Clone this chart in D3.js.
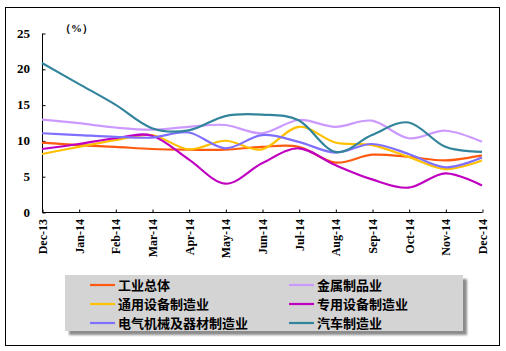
<!DOCTYPE html>
<html>
<head>
<meta charset="utf-8">
<script src="https://cdn.jsdelivr.net/npm/d3@7"></script>
<style>
  body { margin: 0; background: #fff; }
  svg { display: block; }
</style>
</head>
<body>
<svg width="506" height="351"></svg>
<script>
const months = ["Dec-13", "Jan-14", "Feb-14", "Mar-14", "Apr-14", "May-14", "Jun-14",
  "Jul-14", "Aug-14", "Sep-14", "Oct-14", "Nov-14", "Dec-14"];
const yTicks = [0, 5, 10, 15, 20, 25];

const seriesNames = ["工业总体", "金属制品业", "通用设备制造业", "专用设备制造业", "电气机械及器材制造业", "汽车制造业"];
const seriesColors = ["#ff5a0f", "#cc99ff", "#ffc000", "#c000c0", "#7f6fff", "#31849b"];

const industryTotal = [9.7, 9.35, 9.1, 8.8, 8.7, 8.7, 9.1, 9.1, 6.9, 8.0, 7.7, 7.2, 7.9];
const metalProducts = [12.9, 12.4, 11.8, 11.5, 11.9, 12.15, 11.0, 12.85, 11.9, 12.75, 10.3, 11.35, 9.8];
const generalEquip = [8.1, 9.1, 10.05, 10.75, 8.75, 9.95, 8.75, 11.9, 9.7, 9.35, 7.7, 6.0, 7.2];
const specialEquip = [8.8, 9.5, 10.3, 10.65, 7.35, 3.95, 6.8, 8.9, 6.55, 4.55, 3.4, 5.4, 3.7];
const electrical = [11.0, 10.75, 10.5, 10.4, 11.1, 8.9, 10.75, 9.8, 8.3, 9.5, 8.1, 6.25, 7.6];
const automobile = [20.8, 17.9, 15.0, 11.7, 11.4, 13.4, 13.6, 12.8, 8.4, 10.75, 12.5, 9.1, 8.4];

const seriesValues = [industryTotal, metalProducts, generalEquip, specialEquip, electrical, automobile];

const svg = d3.select("svg");

// outer frame
svg.append("rect")
  .attr("x", 5.5).attr("y", 7.5)
  .attr("width", 494).attr("height", 338)
  .attr("fill", "#fff").attr("stroke", "#000");

const margin = { left: 42, right: 482, top: 33, bottom: 212 };

const xScale = d3.scalePoint()
  .domain(months)
  .range([margin.left, margin.right]);

const yScale = d3.scaleLinear()
  .domain([0, 25])
  .range([margin.bottom, margin.top]);

const axisFont = "'Liberation Serif', 'DejaVu Serif', serif";

// y axis, ticks inside
const yAxis = d3.axisRight(yScale).tickValues(yTicks).tickSize(3).tickFormat("");
svg.append("g")
  .attr("transform", `translate(${margin.left + 0.5}, 0.5)`)
  .call(yAxis)
  .call(g => g.select(".domain").attr("stroke", "#000").attr("d", `M0,${margin.top}V${margin.bottom}`));

svg.append("g")
  .selectAll("text")
  .data(yTicks)
  .join("text")
  .attr("x", 30)
  .attr("y", d => yScale(d))
  .attr("dy", "0.35em")
  .attr("text-anchor", "end")
  .attr("font-family", axisFont)
  .attr("font-weight", "bold")
  .attr("font-size", 13)
  .text(d => d);

svg.append("text")
  .attr("x", 60).attr("y", 32)
  .attr("font-family", axisFont)
  .attr("font-weight", "bold")
  .attr("font-size", 11)
  .text("（%）");

// x axis, ticks inside (upward)
const xAxis = d3.axisTop(xScale).tickSize(3).tickFormat("");
svg.append("g")
  .attr("transform", `translate(0.5, ${margin.bottom + 0.5})`)
  .call(xAxis)
  .call(g => g.select(".domain").attr("d", `M${margin.left},0H${margin.right}`));

svg.append("g")
  .selectAll("text")
  .data(months)
  .join("text")
  .attr("transform", d => `translate(${xScale(d) + 5}, 219) rotate(-90)`)
  .attr("text-anchor", "end")
  .attr("font-family", axisFont)
  .attr("font-weight", "bold")
  .attr("font-size", 12)
  .text(d => d);

// lines
const line = d3.line()
  .x((d, i) => xScale(months[i]))
  .y(d => yScale(d))
  .curve(d3.curveCardinal.tension(0));

svg.append("g")
  .selectAll("path")
  .data(seriesValues)
  .join("path")
  .attr("d", d => line(d))
  .attr("fill", "none")
  .attr("stroke", (d, i) => seriesColors[i])
  .attr("stroke-width", 2.2);

// legend
const defs = svg.append("defs");
const filter = defs.append("filter").attr("id", "shadow")
  .attr("x", "-5%").attr("y", "-10%").attr("width", "115%").attr("height", "130%");
filter.append("feGaussianBlur").attr("stdDeviation", 1.2);

svg.append("rect")
  .attr("x", 69).attr("y", 279)
  .attr("width", 398).attr("height", 56)
  .attr("fill", "#8c8c8c")
  .attr("filter", "url(#shadow)");

svg.append("rect")
  .attr("x", 65).attr("y", 275)
  .attr("width", 398).attr("height", 56)
  .attr("fill", "#d4d4d4");

const legendCols = [90, 289];
const legendRows = [285, 304, 323];

const legendItem = svg.append("g")
  .selectAll("g")
  .data(seriesNames)
  .join("g")
  .attr("transform", (d, i) => `translate(${legendCols[i % 2]}, ${legendRows[Math.floor(i / 2)]})`);

legendItem.append("line")
  .attr("x1", 0).attr("x2", 25)
  .attr("y1", 0).attr("y2", 0)
  .attr("stroke", (d, i) => seriesColors[i])
  .attr("stroke-width", 2.2);

legendItem.append("text")
  .attr("x", 28)
  .attr("y", 0)
  .attr("dy", "0.38em")
  .attr("font-family", "'Noto Sans CJK SC', sans-serif")
  .attr("font-weight", "bold")
  .attr("font-size", 13)
  .text(d => d);
</script>
</body>
</html>
